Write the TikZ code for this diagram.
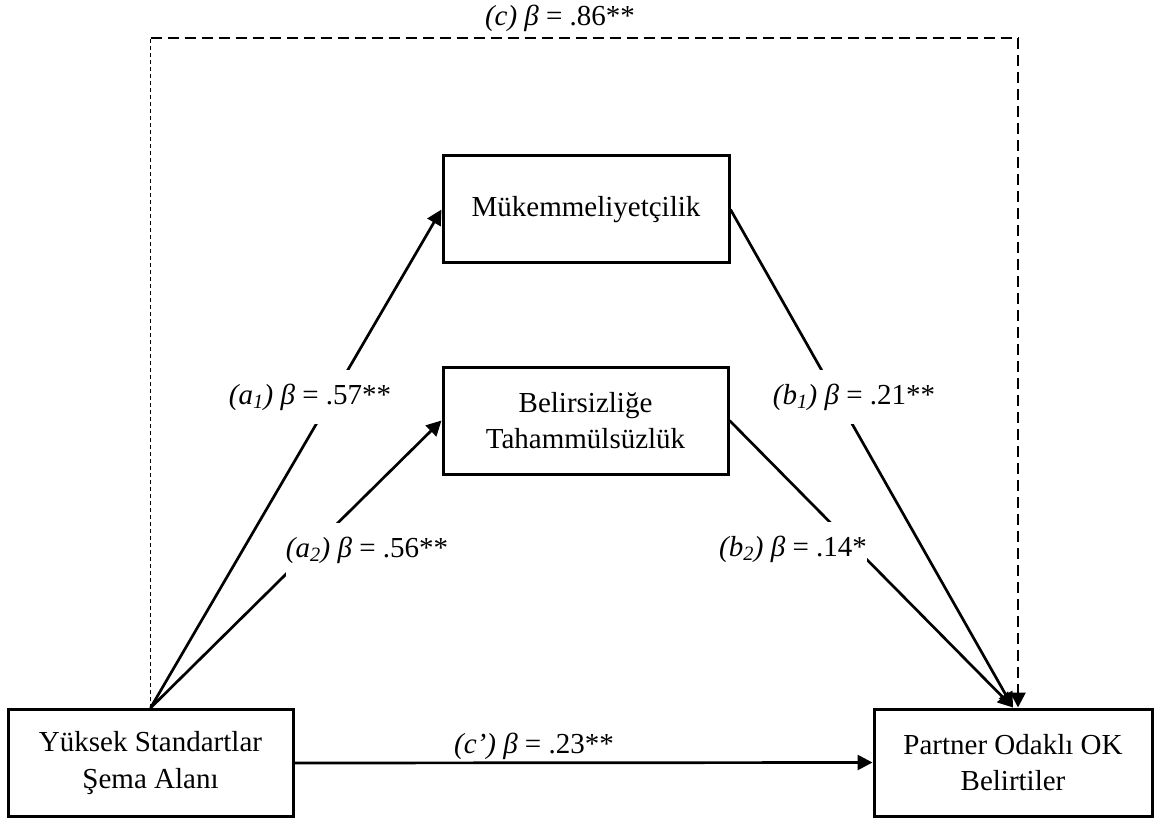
\documentclass[tikz,border=0pt]{standalone}
\usepackage{fontspec}
\setmainfont{Liberation Serif}
\usetikzlibrary{arrows.meta}
\begin{document}
\begin{tikzpicture}[x=1pt,y=-1pt,
  box/.style={draw=black,line width=3pt,fill=white,minimum width=#1,minimum height=107pt,align=center,inner sep=0pt,font=\fontsize{29}{36.7}\selectfont},
  box/.default=285pt,
  conn/.style={line width=2.7pt,-{Triangle[length=15pt,width=15pt]}},
  lbl/.style={fill=white,inner sep=0pt,minimum height=54pt,font=\fontsize{29}{35}\selectfont},
  toplbl/.style={inner sep=0pt,anchor=base,font=\fontsize{29}{35}\selectfont}]
\useasboundingbox (0,0) rectangle (1154,818);
\node[box=285pt] (yk) at (150.5,763) {Yüksek Standartlar\\Şema Alanı};
\node[box=278pt] (pr) at (1013,762.5) {Partner Odaklı OK\\Belirtiler};
\node[box=286pt] (mk) at (586,209.5) {Mükemmeliyetçilik};
\node[box=285pt] (bt) at (585.5,420.5) {Belirsizliğe\\Tahammülsüzlük};
\coordinate (tl) at (150.5,38);
\coordinate (tr) at (1018,38);
% dashed total effect
\draw[line width=1.2pt,dash pattern=on 4pt off 3pt] (yk.north) -- (tl);
\draw[line width=2.7pt,dash pattern=on 11pt off 6pt] (tl) -- (tr);
\draw[conn,dash pattern=on 11pt off 6pt] (tr) -- (tr |- pr.north);
% paths
\draw[conn] (yk.north) -- (mk.west);
\draw[conn] (yk.north) -- (bt.west);
\draw[conn] (mk.east) -- (pr.north);
\draw[conn] (bt.east) -- (pr.north);
\draw[conn] (yk.east) -- (pr.west);
% labels
\node[lbl] (la1) at (310,397) {\textit{(a\textsubscript{1}) β} = .57**};
\node[lbl] (la2) at (367,550) {\textit{(a\textsubscript{2}) β} = .56**};
\node[lbl] (lb1) at (854,397) {\textit{(b\textsubscript{1}) β} = .21**};
\node[lbl] (lb2) at (793,549) {\textit{(b\textsubscript{2}) β} = .14*};
\node[toplbl] (lc) at (560,26) {\textit{(c) β} = .86**};
\node[toplbl] (lcp) at (534,753) {\textit{(c’) β} = .23**};
\end{tikzpicture}
\end{document}
